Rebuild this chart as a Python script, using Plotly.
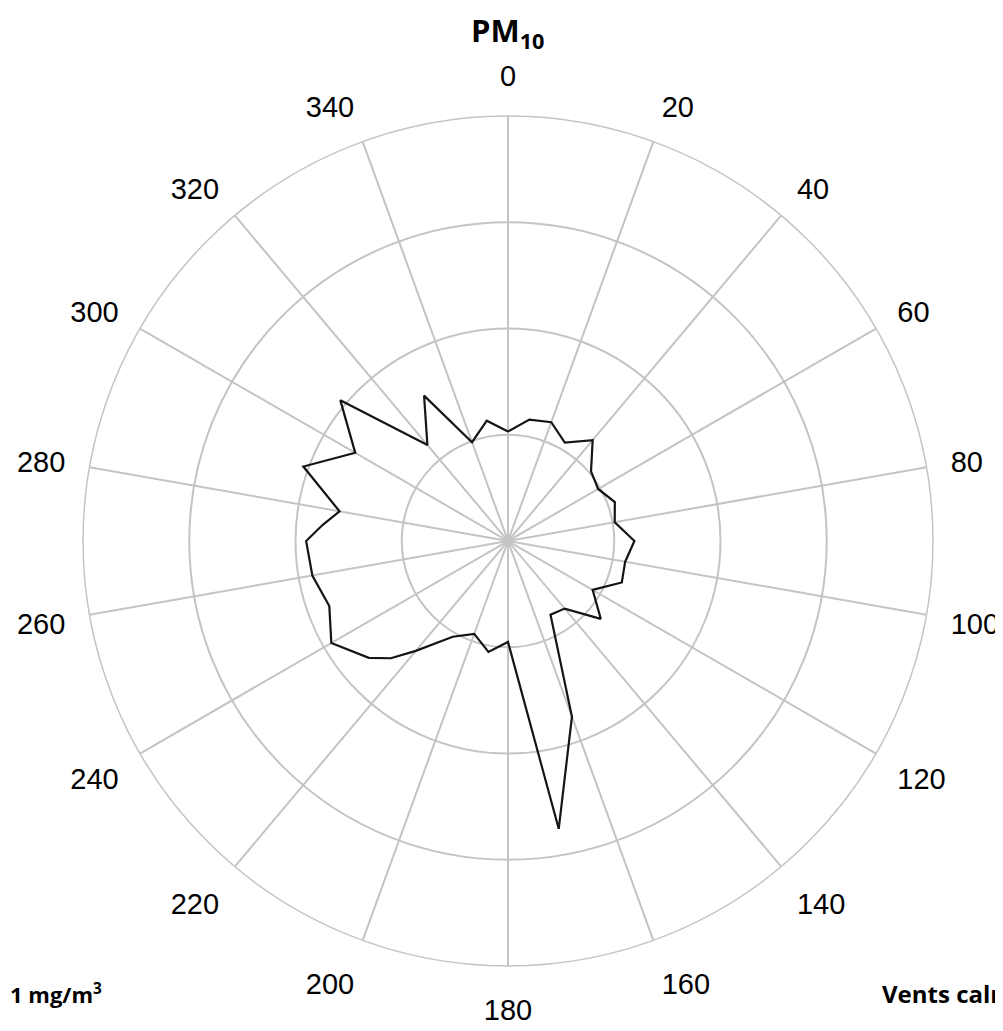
import plotly.graph_objects as go

# Wind direction (degrees) and PM10 concentration (radial units, ring = 1)
directions = [0, 10, 20, 30, 40, 50, 60, 70, 80, 90, 100, 110, 120, 130, 140, 150,
              160, 170, 180, 190, 200, 210, 220, 225, 230, 240, 250, 260, 270, 275,
              280, 290, 300, 310, 320, 330, 340, 350]
pm10 = [1.03, 1.16, 1.19, 1.07, 1.24, 1.02, 0.98, 1.07, 1.02, 1.19, 1.12, 1.14,
        0.92, 1.14, 0.83, 0.80, 1.76, 2.75, 0.95, 1.06, 0.93, 1.04, 1.35, 1.56,
        1.71, 1.92, 1.79, 1.87, 1.90, 1.75, 1.61, 2.05, 1.66, 2.06, 1.18, 1.58,
        0.99, 1.15]

tick_angles = list(range(0, 360, 20))
tick_labels = [str(a) for a in tick_angles]
ring_values = [1, 2, 3, 4]

theta_closed = directions + [directions[0]]
r_closed = pm10 + [pm10[0]]

W, H = 1003, 1031

fig = go.Figure()
fig.add_trace(go.Scatterpolar(
    r=r_closed, theta=theta_closed, mode="lines",
    line=dict(color="#151515", width=2.2),
    showlegend=False, hoverinfo="skip",
))

grid_col = "#c4c4c4"
fig.update_layout(
    width=W, height=H,
    margin=dict(l=0, r=0, t=0, b=0),
    paper_bgcolor="white",
    showlegend=False,
    polar=dict(
        domain=dict(x=[0.0748, 0.9222], y=[0.0708, 0.8952]),
        bgcolor="white",
        gridshape="linear",
        angularaxis=dict(
            rotation=90, direction="clockwise",
            tickmode="array", tickvals=tick_angles, ticktext=tick_labels,
            showgrid=True, gridcolor=grid_col, gridwidth=1.5,
            showline=True, linecolor=grid_col, linewidth=1.5,
            ticks="outside", ticklen=18, tickcolor="rgba(0,0,0,0)",
            tickfont=dict(family="Liberation Sans, Arial", size=29, color="black"),
        ),
        radialaxis=dict(
            range=[0, 4], tickmode="array", tickvals=ring_values,
            showticklabels=False, ticks="",
            showgrid=True, gridcolor=grid_col, gridwidth=1.5,
            showline=False,
        ),
    ),
    annotations=[
        dict(text="<b>PM<sub>10</sub></b>", x=500 / W, y=1007 / H, xref="paper", yref="paper",
             showarrow=False, font=dict(family="Open Sans", size=31, color="black"),
             xanchor="center", yanchor="middle"),
        dict(text="<b>1 mg/m<sup>3</sup></b>", x=0, y=46 / H, xref="paper", yref="paper",
             showarrow=False, font=dict(family="Open Sans", size=22, color="black"),
             xanchor="left", yanchor="middle"),
        dict(text="<b>Vents calmes</b>", x=872 / W, y=46 / H, xref="paper", yref="paper",
             showarrow=False, font=dict(family="Open Sans", size=24, color="black"),
             xanchor="left", yanchor="middle"),
    ],
)

fig.write_html("out.html")
